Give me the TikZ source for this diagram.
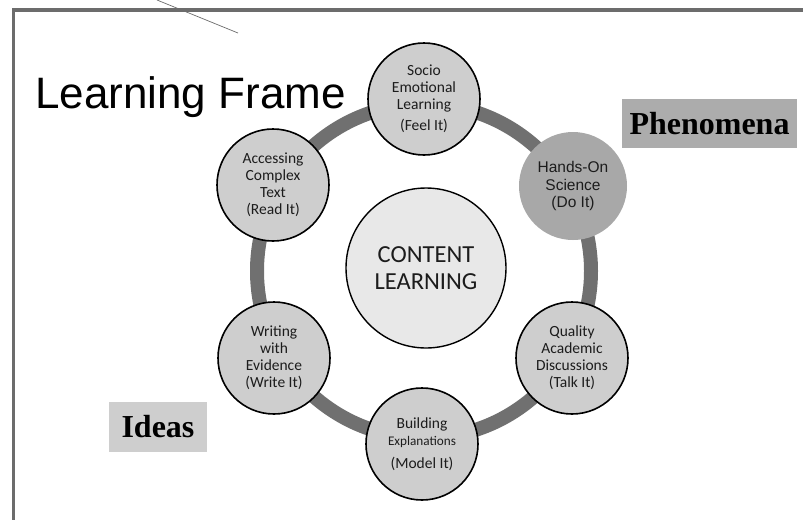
\documentclass[tikz,border=0pt]{standalone}
\usepackage{fontspec}
\setmainfont{Carlito}
\newfontfamily\arialfont{Liberation Sans}
\newfontfamily\timesfont{Liberation Serif}
\definecolor{frameGray}{RGB}{108, 108, 108}
\definecolor{ringGray}{RGB}{112, 112, 112}
\definecolor{skillGray}{RGB}{206, 206, 206}
\definecolor{doGray}{RGB}{168, 168, 168}
\definecolor{coreGray}{RGB}{232, 232, 232}
\definecolor{tagDark}{RGB}{172, 172, 172}
\definecolor{tagLight}{RGB}{206, 206, 206}
\definecolor{inkGray}{RGB}{28, 28, 28}
\usepackage{tikz}
\usetikzlibrary{positioning}
\tikzset{
  skillC/.style={circle, draw=black, fill=skillGray, line width=1.6pt,
                 minimum size=112pt, inner sep=0pt,
                 align=center, text=inkGray, font=\fontsize{15.5}{17}\selectfont},
  doC/.style={circle, fill=doGray, minimum size=108pt, inner sep=0pt,
              align=center, text=inkGray, font=\arialfont\fontsize{15.5}{17.5}\selectfont},
  coreC/.style={circle, draw=black, fill=coreGray, line width=1.4pt,
                minimum size=160pt, inner sep=0pt,
                align=center, text=inkGray, font=\fontsize{24.5}{27}\selectfont},
  tagbox/.style={rectangle, inner sep=0pt, text=black,
                 font=\timesfont\bfseries\fontsize{32}{36}\selectfont},
  ringline/.style={draw=ringGray, line width=14pt},
  frameline/.style={draw=frameGray, line width=3.5pt},
}

\begin{document}
\begin{tikzpicture}[x=1pt, y=-1pt]
    \useasboundingbox[fill=white] (0,0) rectangle (803,520);

    \draw[frameline] (803,10) -- (13.5,10) -- (13.5,520);
    \coordinate (slashA) at (157,0);
    \coordinate (slashB) at (238,33);
    \draw[draw=frameGray, line width=0.7pt] (slashA) -- (slashB);

    \node[anchor=base west, inner sep=0pt,
          font=\arialfont\fontsize{44}{50}\selectfont] (title) at (35,108) {Learning Frame};

    % ring behind the six skills
    \coordinate (hub) at (424,271);
    \draw[ringline] (hub) circle[radius=167];

    \node[coreC] (core) at (426,268) {CONTENT\\LEARNING};

    \node[skillC] (feel) at (424,99) {
      Socio\\
      Emotional\\
      Learning\\[4pt]
      (Feel It)
    };

    \node[doC] (doit) at (573,186) {
      Hands-On\\
      Science\\
      (Do It)
    };

    \node[skillC] (talk) at (572,358) {
      Quality\\
      Academic\\
      Discussions\\
      (Talk It)
    };

    \node[skillC] (model) at (422,444) {
      Building\\
      {\fontsize{13.2}{15}\selectfont Explanations}\\[6pt]
      (Model It)
    };

    \node[skillC] (write) at (274,358) {
      Writing\\
      with\\
      Evidence\\
      (Write It)
    };

    \node[skillC] (read) at (273,185) {
      Accessing\\
      Complex\\
      Text\\
      (Read It)
    };

    \node[tagbox, fill=tagDark, minimum width=175pt, minimum height=49pt] (phen) at (709.5,123.5) {Phenomena};
    \node[tagbox, fill=tagLight, minimum width=98pt, minimum height=50pt] (ideas) at (158,427) {Ideas};
  \end{tikzpicture}
\end{document}
